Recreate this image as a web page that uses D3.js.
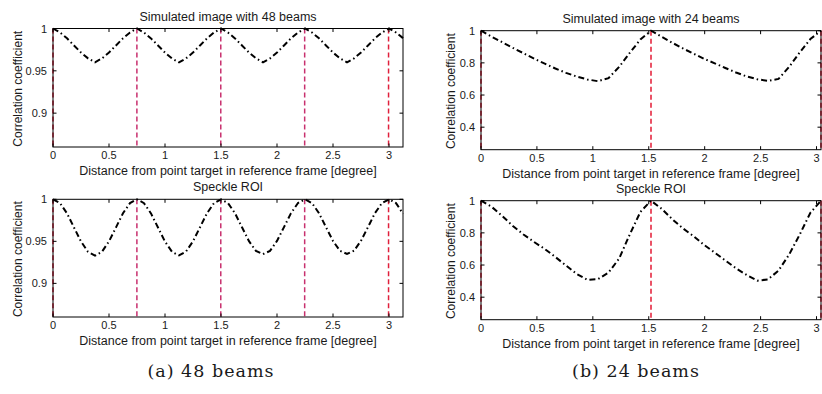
<!DOCTYPE html>
<html>
<head>
<meta charset="utf-8">
<script src="https://cdn.jsdelivr.net/npm/d3@7"></script>
<style>
  body { margin: 0; background: #fff; }
  text { font-family: "Liberation Sans", Arial, sans-serif; fill: #1a1a1a; }
  .caption { font-family: "DejaVu Serif", serif; letter-spacing: 1px; }
</style>
</head>
<body>
<div id="chart"></div>
<script>
// distance from point target [degree], 48-beam panels
const distA = [0, 0.0625, 0.125, 0.1875, 0.25, 0.3125, 0.375, 0.4375, 0.5, 0.5625, 0.625, 0.6875,
  0.75, 0.8125, 0.875, 0.9375, 1, 1.0625, 1.125, 1.1875, 1.25, 1.3125, 1.375, 1.4375,
  1.5, 1.5625, 1.625, 1.6875, 1.75, 1.8125, 1.875, 1.9375, 2, 2.0625, 2.125, 2.1875,
  2.25, 2.3125, 2.375, 2.4375, 2.5, 2.5625, 2.625, 2.6875, 2.75, 2.8125, 2.875, 2.9375,
  3, 3.0625, 3.125];
const simA = [1, 0.9953, 0.9884, 0.980, 0.9716, 0.9647, 0.9601, 0.9647, 0.9716, 0.980, 0.9884, 0.9953,
  1, 0.9952, 0.9883, 0.980, 0.9715, 0.9646, 0.9600, 0.9646, 0.9716, 0.980, 0.9884, 0.9953,
  1, 0.9952, 0.9883, 0.980, 0.9716, 0.9647, 0.9600, 0.9647, 0.9716, 0.980, 0.9884, 0.9953,
  1, 0.9953, 0.9884, 0.980, 0.9716, 0.9647, 0.9601, 0.9647, 0.9716, 0.980, 0.9884, 0.9953,
  1, 0.9953, 0.9886];
const speckleA = [1, 0.9955, 0.9833, 0.9665, 0.9498, 0.9375, 0.9330, 0.9376, 0.9500, 0.9666, 0.9834, 0.9955,
  1, 0.9954, 0.9832, 0.9664, 0.9497, 0.9376, 0.9332, 0.9378, 0.9501, 0.9667, 0.9834, 0.9955,
  1, 0.9955, 0.9834, 0.9667, 0.9502, 0.9385, 0.9348, 0.9386, 0.9505, 0.9669, 0.9835, 0.9956,
  1, 0.9955, 0.9835, 0.9668, 0.9504, 0.9387, 0.9350, 0.9388, 0.9506, 0.9670, 0.9836, 0.9956,
  1, 0.9955, 0.9828];
const beamsA = [0, 0.749, 1.498, 2.247, 2.996];

// 24-beam panels
const distB = [0, 0.095, 0.19, 0.285, 0.38, 0.475, 0.57, 0.665, 0.76, 0.855, 0.95, 1.045,
  1.14, 1.235, 1.33, 1.425, 1.52, 1.615, 1.71, 1.805, 1.9, 1.995, 2.09, 2.185,
  2.28, 2.375, 2.47, 2.565, 2.66, 2.755, 2.85, 2.945, 3.04];
const simB = [1, 0.963, 0.928, 0.893, 0.860, 0.826, 0.795, 0.765, 0.738, 0.715, 0.697, 0.686,
  0.705, 0.775, 0.862, 0.945, 1, 0.962, 0.925, 0.890, 0.857, 0.825, 0.797, 0.768,
  0.740, 0.716, 0.698, 0.688, 0.700, 0.775, 0.865, 0.948, 1];
const speckleB = [1, 0.962, 0.905, 0.843, 0.790, 0.743, 0.700, 0.650, 0.597, 0.545, 0.508, 0.512,
  0.553, 0.640, 0.790, 0.930, 1, 0.950, 0.885, 0.828, 0.780, 0.725, 0.677, 0.628,
  0.580, 0.538, 0.503, 0.510, 0.565, 0.665, 0.790, 0.925, 1];
const beamsB = [0, 1.52, 3.04];

const xTicks = [0, 0.5, 1, 1.5, 2, 2.5, 3];
const yTicksA = [0.9, 0.95, 1];
const yTicksB = [0.4, 0.6, 0.8, 1];

const xLabel = "Distance from point target in reference frame [degree]";
const yLabel = "Correlation coefficient";

const svg = d3.select("#chart").append("svg")
  .attr("width", 822).attr("height", 394);
svg.append("rect").attr("width", 822).attr("height", 394).attr("fill", "#fff");

function panel(box, dist, corr, beams, xMax, yMin, yTicks, title, beamColors) {
  const x = d3.scaleLinear().domain([0, xMax]).range([box.l, box.r]);
  const y = d3.scaleLinear().domain([yMin, 1]).range([box.b, box.t]);
  const g = svg.append("g");

  // beam positions
  g.selectAll("line.beam").data(beams).join("line")
    .attr("x1", d => x(d)).attr("x2", d => x(d))
    .attr("y1", box.t).attr("y2", box.b)
    .attr("stroke", (d, i) => beamColors[i])
    .attr("stroke-width", 1.5)
    .attr("stroke-dasharray", "5,3");

  const line = d3.line().x((d, i) => x(dist[i])).y(d => y(d));
  g.append("path").datum(corr)
    .attr("d", line)
    .attr("fill", "none")
    .attr("stroke", "#000")
    .attr("stroke-width", 2)
    .attr("stroke-dasharray", "6,3,1.5,3");

  // box + inward ticks
  g.append("rect")
    .attr("x", box.l).attr("y", box.t)
    .attr("width", box.r - box.l).attr("height", box.b - box.t)
    .attr("fill", "none").attr("stroke", "#000").attr("stroke-width", 1);

  const tl = 3.5;
  xTicks.forEach(v => {
    g.append("line").attr("x1", x(v)).attr("x2", x(v)).attr("y1", box.b).attr("y2", box.b - tl).attr("stroke", "#000");
    g.append("line").attr("x1", x(v)).attr("x2", x(v)).attr("y1", box.t).attr("y2", box.t + tl).attr("stroke", "#000");
    g.append("text").attr("x", x(v)).attr("y", box.b + 12)
      .attr("text-anchor", "middle").attr("font-size", 11).text(v);
  });
  yTicks.forEach(v => {
    g.append("line").attr("x1", box.l).attr("x2", box.l + tl).attr("y1", y(v)).attr("y2", y(v)).attr("stroke", "#000");
    g.append("line").attr("x1", box.r).attr("x2", box.r - tl).attr("y1", y(v)).attr("y2", y(v)).attr("stroke", "#000");
    g.append("text").attr("x", box.l - 6).attr("y", y(v) + 4)
      .attr("text-anchor", "end").attr("font-size", 11).text(v);
  });

  g.append("text").attr("x", (box.l + box.r) / 2).attr("y", box.b + 28)
    .attr("text-anchor", "middle").attr("font-size", 12.5).text(xLabel);
  g.append("text").attr("x", (box.l + box.r) / 2).attr("y", box.t - 8)
    .attr("text-anchor", "middle").attr("font-size", 12.5).text(title);
  g.append("text")
    .attr("transform", `translate(${box.yl},${(box.t + box.b) / 2 + 1}) rotate(-90)`)
    .attr("text-anchor", "middle").attr("dy", "0.35em").attr("font-size", 12).text(yLabel);
}

const redA = ["#e0203c", "#c8306e", "#c8306e", "#c8306e", "#e0203c"];
const redB = ["#e41a34", "#e41a34", "#e41a34"];

panel({l: 53, r: 403, t: 28.5, b: 147, yl: 18}, distA, simA, beamsA, 3.125, 0.86, yTicksA,
  "Simulated image with 48 beams", redA);
panel({l: 53, r: 403, t: 199.3, b: 317, yl: 18}, distA, speckleA, beamsA, 3.125, 0.86, yTicksA,
  "Speckle ROI", redA);
panel({l: 481, r: 821, t: 30.7, b: 149.7, yl: 451}, distB, simB, beamsB, 3.04, 0.26, yTicksB,
  "Simulated image with 24 beams", redB);
panel({l: 481, r: 821, t: 200.7, b: 319.7, yl: 451}, distB, speckleB, beamsB, 3.04, 0.26, yTicksB,
  "Speckle ROI", redB);

svg.append("text").attr("class", "caption").attr("x", 211).attr("y", 377)
  .attr("text-anchor", "middle").attr("font-size", 17.5).text("(a) 48 beams");
svg.append("text").attr("class", "caption").attr("x", 636).attr("y", 377)
  .attr("text-anchor", "middle").attr("font-size", 17.5).text("(b) 24 beams");
</script>
</body>
</html>
